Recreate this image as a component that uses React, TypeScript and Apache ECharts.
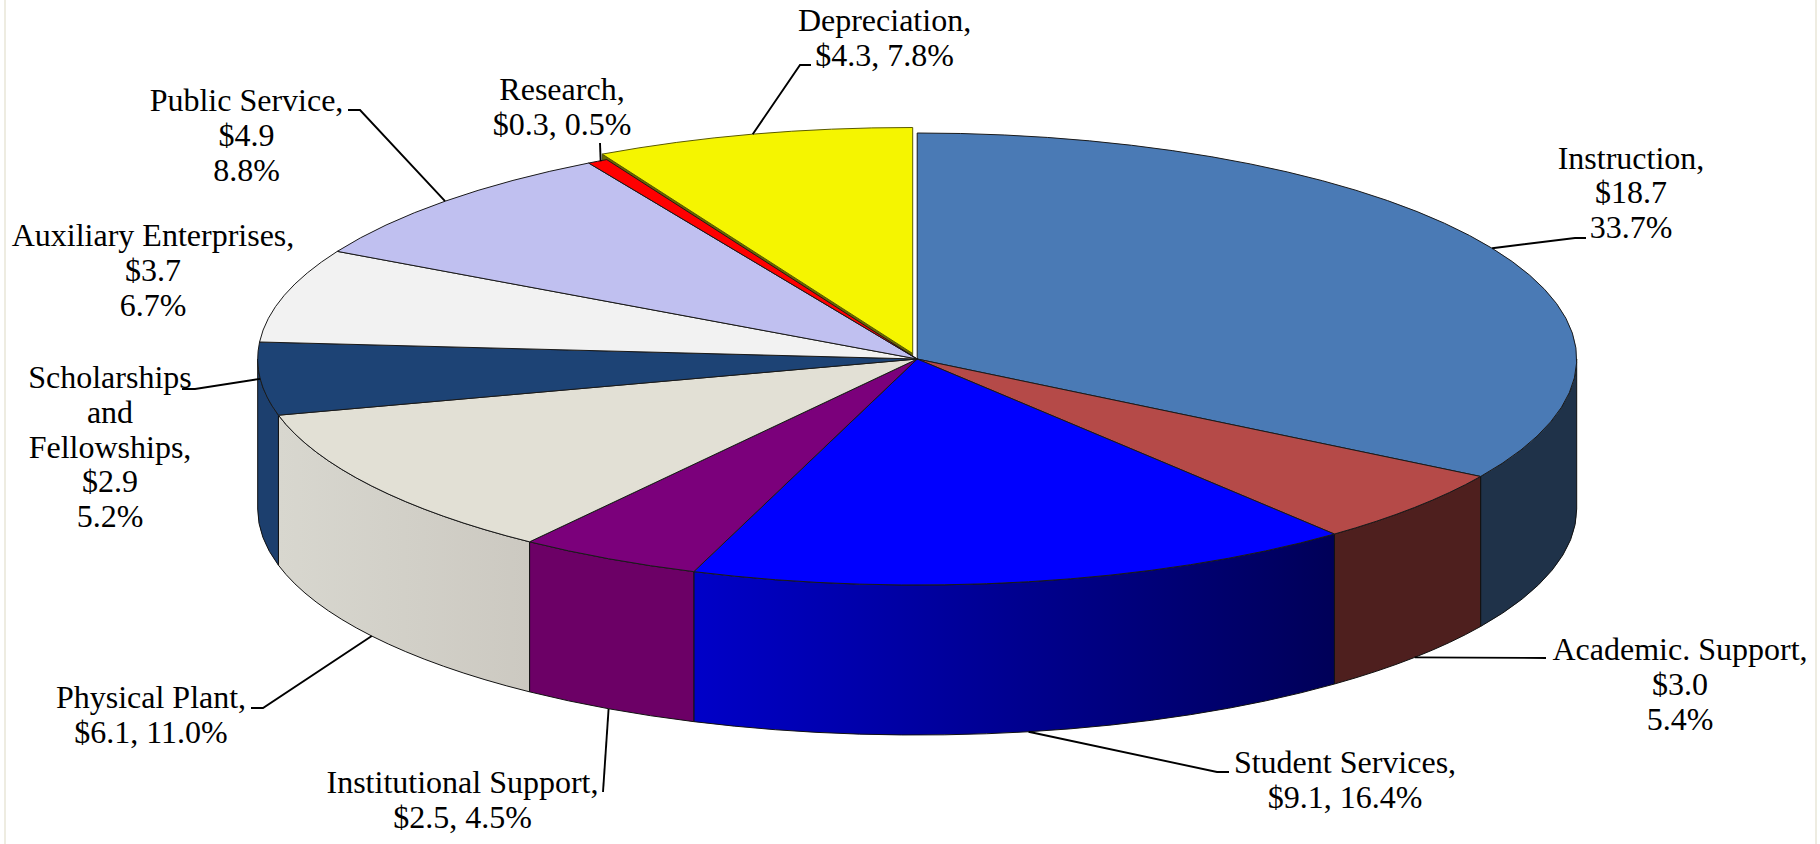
import React, { useEffect, useRef } from "react";
import * as echarts from "echarts";

// ---- data ----
const categories = [
  "Instruction,",
  "Academic. Support,",
  "Student Services,",
  "Institutional Support,",
  "Physical Plant,",
  "Scholarships\nand\nFellowships,",
  "Auxiliary Enterprises,",
  "Public Service,",
  "Research,",
  "Depreciation,",
];
const amounts = [18.7, 3.0, 9.1, 2.5, 6.1, 2.9, 3.7, 4.9, 0.3, 4.3];
const percents = [33.7, 5.4, 16.4, 4.5, 11.0, 5.2, 6.7, 8.8, 0.5, 7.8];

// ---- styles ----
const topColors = ["#4a7ab5", "#b54a48", "#0000ff", "#7b007b", "#e2e0d5", "#1d4375", "#f2f2f2", "#c0c0f0", "#ff0000", "#f5f500"];
const wallColors: string[][] = [
  ["#1f3249", "#1f3249"],
  ["#4e1f1e", "#4e1f1e"],
  ["#0000c8", "#000058"],
  ["#6c0066", "#6c0066"],
  ["#d8d7cf", "#ccc9c1"],
  ["#1c3f6e", "#1c3f6e"],
];

// ---- layout ----
const W = 1820;
const H = 844;
const CX = 917.2;
const CY = 359;
const RX = 659.5;
const RY = 226;
const DEPTH = 150;
const EXPLODE: [number, number][] = [[0, 0], [0, 0], [0, 0], [0, 0], [0, 0], [0, 0], [0, 0], [0, 0], [0, 0], [-4.5, -5.5]];
const FONT_SIZE = 32;
const LINE_H = 34.6;
const BASE_OFFSET = 28;

type Lay = { cx: number; base: number; inline: boolean; wall: boolean; nudge?: number; leader: number[][] | null };
const labelLayout: Lay[] = [
  { cx: 1631, base: 168.5, inline: false, wall: false, leader: [[1575, 238], [1586, 238]] },
  { cx: 1680, base: 660, inline: false, wall: true, leader: [[1546, 658]] },
  { cx: 1345, base: 773, inline: true, wall: true, leader: [[1217, 772], [1229, 772]] },
  { cx: 462.5, base: 793, inline: true, wall: true, leader: [[603, 792]] },
  { cx: 151, base: 708, inline: true, wall: true, leader: [[263, 708], [251, 708]] },
  { cx: 110, base: 388, inline: false, wall: false, leader: [[195, 389], [182, 389]] },
  { cx: 153, base: 246, inline: false, wall: false, leader: null },
  { cx: 246.5, base: 111, inline: false, wall: false, leader: [[360, 110], [348, 110]] },
  { cx: 562, base: 100, inline: true, wall: false, nudge: 3, leader: [[600, 143]] },
  { cx: 884.5, base: 31, inline: true, wall: false, leader: [[800, 65], [811, 65]] },
];

// ---- geometry derived from the data ----
const total = percents.reduce((a, b) => a + b, 0);
const angleAt = (share: number) => (share / total) * Math.PI * 2;
const starts: number[] = [];
percents.reduce((acc, v, i) => {
  starts[i] = acc;
  return acc + v;
}, 0);
const sliceStart = (i: number) => angleAt(starts[i]);
const sliceEnd = (i: number) => angleAt(starts[i] + percents[i]);
const edge = (t: number, i: number, down = 0): [number, number] => [
  CX + EXPLODE[i][0] + RX * Math.sin(t),
  CY + EXPLODE[i][1] + down - RY * Math.cos(t),
];
const pt = (p: number[]) => `${p[0].toFixed(2)} ${p[1].toFixed(2)}`;

function topPath(i: number) {
  const a = sliceStart(i);
  const b = sliceEnd(i);
  const c = [CX + EXPLODE[i][0], CY + EXPLODE[i][1]];
  const large = b - a > Math.PI ? 1 : 0;
  return `M${pt(c)}L${pt(edge(a, i))}A${RX} ${RY} 0 ${large} 1 ${pt(edge(b, i))}Z`;
}

function wallPath(i: number) {
  const a = Math.max(sliceStart(i), Math.PI / 2);
  const b = Math.min(sliceEnd(i), (Math.PI * 3) / 2);
  if (b <= a) return null;
  return (
    `M${pt(edge(a, i))}A${RX} ${RY} 0 0 1 ${pt(edge(b, i))}` +
    `L${pt(edge(b, i, DEPTH))}A${RX} ${RY} 0 0 0 ${pt(edge(a, i, DEPTH))}Z`
  );
}

function labelText(i: number) {
  const money = `$${amounts[i].toFixed(1)}`;
  const pct = `${percents[i].toFixed(1)}%`;
  return labelLayout[i].inline
    ? `${categories[i]}\n${money}, ${pct}`
    : `${categories[i]}\n${money}\n${pct}`;
}

const strokeFor = (i: number) => (i === 9 ? "#5a5a00" : "#1a1a1a");

export default function App() {
  const ref = useRef<HTMLDivElement>(null);
  useEffect(() => {
    document.body.style.margin = "0";
    document.body.style.overflow = "hidden";
    const chart = echarts.init(ref.current!, null, { renderer: "svg" });
    const data = percents.map((v, i) => ({ name: categories[i], value: v }));
    chart.setOption({
      animation: false,
      backgroundColor: "#ffffff",
      graphic: [
        { type: "rect", shape: { x: 4, y: 0, width: 2, height: H }, style: { fill: "#eeece1" }, silent: true },
        { type: "rect", shape: { x: 1815, y: 0, width: 2, height: H }, style: { fill: "#eeece1" }, silent: true },
      ],
      series: [
        {
          // outer walls
          type: "custom",
          coordinateSystem: "none",
          silent: true,
          z: 1,
          data,
          renderItem: (params: any) => {
            const i = params.dataIndex;
            const d = wallPath(i);
            if (!d) return { type: "group", children: [] };
            const [c0, c1] = wallColors[i] || ["#000", "#000"];
            return {
              type: "path",
              shape: { pathData: d },
              style: {
                fill: new echarts.graphic.LinearGradient(0, 0, 1, 0, [
                  { offset: 0, color: c0 },
                  { offset: 1, color: c1 },
                ]),
                stroke: "#111111",
                lineWidth: 1,
              },
            };
          },
        },
        {
          // cut face that the pulled-out slice shows, under the other tops
          type: "custom",
          coordinateSystem: "none",
          silent: true,
          z: 2,
          data,
          renderItem: (params: any) => {
            const i = params.dataIndex;
            if (!EXPLODE[i][0] && !EXPLODE[i][1]) return { type: "group", children: [] };
            const c = [CX + EXPLODE[i][0], CY + EXPLODE[i][1]];
            const e = edge(sliceStart(i), i);
            return {
              type: "polygon",
              shape: { points: [c, e, [e[0], e[1] + DEPTH], [c[0], c[1] + DEPTH]] },
              style: { fill: "#6a6a00", stroke: "#3c3c00", lineWidth: 0.8 },
            };
          },
        },
        {
          // top faces
          type: "custom",
          coordinateSystem: "none",
          silent: true,
          z: 3,
          data,
          renderItem: (params: any) => {
            const i = params.dataIndex;
            return {
              type: "path",
              shape: { pathData: topPath(i) },
              style: { fill: topColors[i], stroke: strokeFor(i), lineWidth: 1 },
            };
          },
        },
        {
          // labels and leader lines
          type: "custom",
          coordinateSystem: "none",
          silent: true,
          z: 4,
          data,
          renderItem: (params: any) => {
            const i = params.dataIndex;
            const lay = labelLayout[i];
            const children: any[] = [];
            if (lay.leader) {
              const mid = (sliceStart(i) + sliceEnd(i)) / 2;
              const anchor = edge(mid, i, lay.wall ? DEPTH : 0);
              anchor[0] += lay.nudge || 0;
              children.push({
                type: "polyline",
                shape: { points: [anchor, ...lay.leader] },
                style: { fill: "none", stroke: "#000000", lineWidth: 1.9 },
              });
            }
            children.push({
              type: "text",
              style: {
                text: labelText(i),
                x: lay.cx,
                y: lay.base - BASE_OFFSET,
                fill: "#000000",
                fontFamily: "Liberation Serif",
                fontSize: FONT_SIZE,
                lineHeight: LINE_H,
                align: "center",
                verticalAlign: "top",
              },
            });
            return { type: "group", children };
          },
        },
      ],
    });
    return () => chart.dispose();
  }, []);
  return <div ref={ref} style={{ width: W, height: H }} />;
}
